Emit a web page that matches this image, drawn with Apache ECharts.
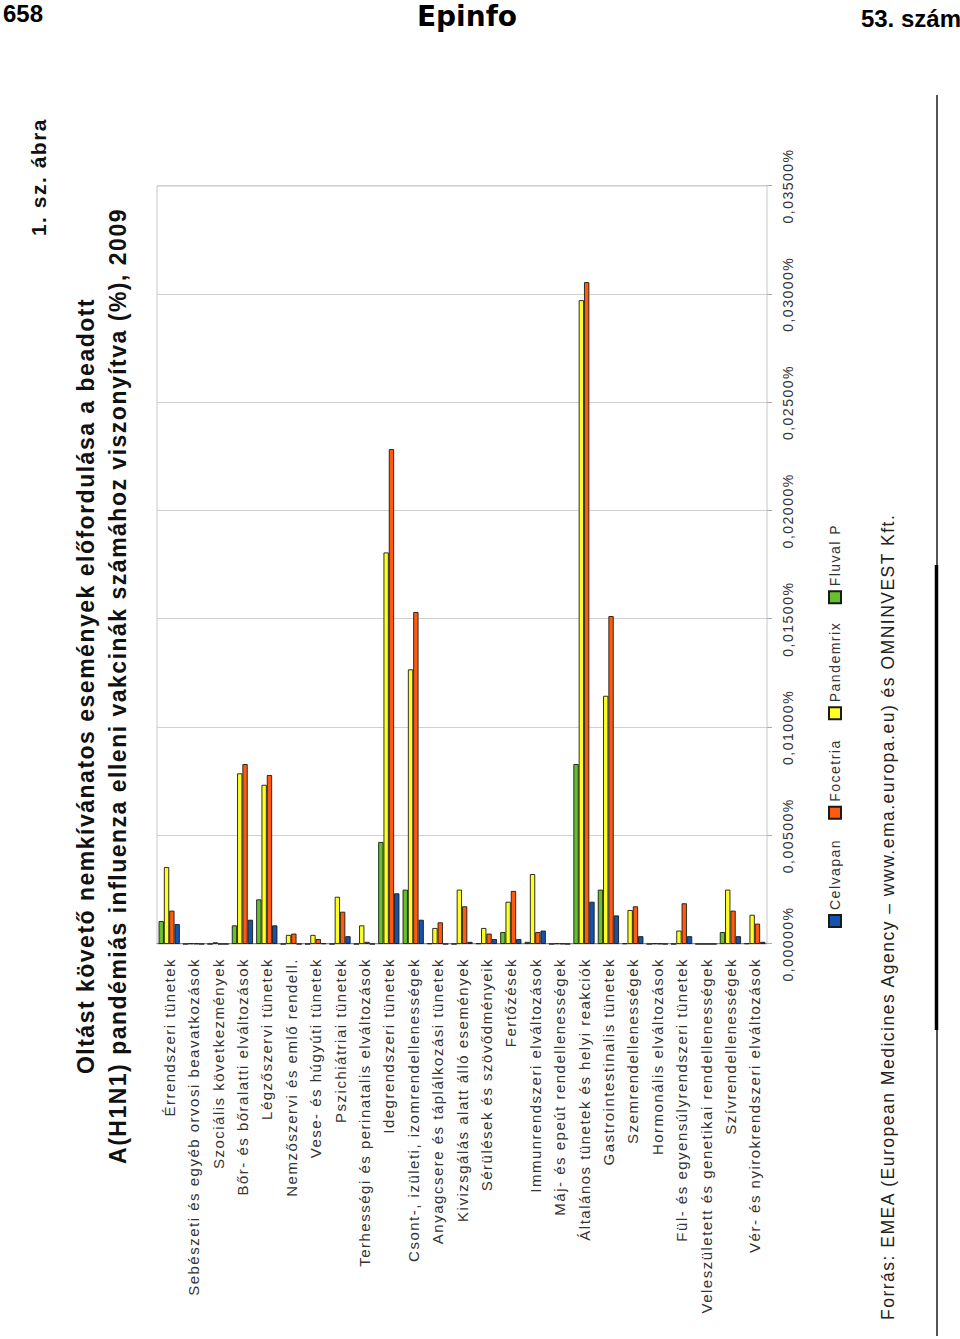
<!DOCTYPE html>
<html><head><meta charset="utf-8">
<script src="https://cdn.jsdelivr.net/npm/echarts@6/dist/echarts.min.js"></script>
<style>
html,body{margin:0;padding:0;background:#fff;}
#page{position:absolute;left:0;top:0;width:960px;height:1339px;}
#chart{position:absolute;left:0;top:40px;width:1299px;height:960px;transform-origin:0 0;transform:translate(0,1299px) rotate(-90deg);letter-spacing:1.5px;}
</style></head><body>
<div id="page"></div><div id="chart"></div>
<script>
const categories = [
  'Érrendszeri tünetek',
  'Sebészeti és egyéb orvosi beavatkozások',
  'Szociális következmények',
  'Bőr- és bőralatti elváltozások',
  'Légzőszervi tünetek',
  'Nemzőszervi és emlő rendell.',
  'Vese- és húgyúti tünetek',
  'Pszichiátriai tünetek',
  'Terhességi és perinatalis elváltozások',
  'Idegrendszeri tünetek',
  'Csont-, izületi, izomrendellenességek',
  'Anyagcsere és táplálkozási tünetek',
  'Kivizsgálás alatt álló események',
  'Sérülések és szövődményeik',
  'Fertőzések',
  'Immunrendszeri elváltozások',
  'Máj- és epeút rendellenességek',
  'Általános tünetek és helyi reakciók',
  'Gastrointestinalis tünetek',
  'Szemrendellenességek',
  'Hormonális elváltozások',
  'Fül- és egyensúlyrendszeri tünetek',
  'Veleszületett és genetikai rendellenességek',
  'Szívrendellenességek',
  'Vér- és nyirokrendszeri elváltozások'
];
const seriesNames = ['Fluval P', 'Pandemrix', 'Focetria', 'Celvapan'];
const legendOrder = ['Celvapan', 'Focetria', 'Pandemrix', 'Fluval P'];
const fluvalP   = [0.00106,0,0,0.00086,0.00206,0,0,0,0,0.00471,0.00251,0.00003,0,0.00003,0.00055,0.0001,0,0.00831,0.00251,0.00003,0,0,0,0.00055,0.00003];
const pandemrix = [0.00355,0.00003,0.00008,0.00788,0.00735,0.00042,0.00042,0.00218,0.00086,0.01808,0.01268,0.00074,0.00251,0.00074,0.00195,0.00323,0.00003,0.02973,0.01146,0.00157,0.00003,0.00062,0,0.00251,0.00135];
const focetria  = [0.00154,0.00002,0,0.00831,0.0078,0.00048,0.00023,0.00149,0.0001,0.02285,0.01533,0.001,0.00174,0.00048,0.00245,0.00055,0.00002,0.03056,0.01514,0.00174,0.00002,0.00188,0,0.00154,0.00094];
const celvapan  = [0.00092,0,0,0.00112,0.00086,0,0.00003,0.00036,0,0.00234,0.00112,0,0.0001,0.00023,0.00023,0.00062,0,0.00195,0.00132,0.00036,0,0.00036,0,0.00036,0.0001];
const titleLines = ['Oltást követő nemkívánatos események előfordulása a beadott', 'A(H1N1) pandémiás influenza elleni vakcinák számához viszonyítva (%), 2009'];
const figLabel = '1. sz. ábra';
const sourceText = 'Forrás: EMEA (European Medicines Agency – www.ema.europa.eu) és OMNINVEST Kft.';
const valueMin = 0, valueMax = 0.035, valueStep = 0.005;

const colors = {'Fluval P':'#66c02e','Pandemrix':'#ffff22','Focetria':'#ff5a0e','Celvapan':'#1452b0'};
const dataMap = {'Fluval P':fluvalP,'Pandemrix':pandemrix,'Focetria':focetria,'Celvapan':celvapan};
const FF = "'Liberation Sans', Arial, sans-serif";

// page decoration (header + side rule)
const page = echarts.init(document.getElementById('page'), null, {renderer:'svg'});
page.setOption({
  animation:false,
  backgroundColor:'#fff',
  graphic:[
    {type:'text', x:3, y:1, style:{text:'658', font:"bold 24px "+FF, fill:'#000', textAlign:'left', align:'left', textVerticalAlign:'top', verticalAlign:'top'}},
    {type:'text', x:467, y:2, style:{text:'Epinfo', font:"bold 28px 'DejaVu Sans'", fill:'#000', textAlign:'center', align:'center', textVerticalAlign:'top', verticalAlign:'top'}},
    {type:'text', x:961, y:6, style:{text:'53. szám', font:"bold 24px "+FF, fill:'#000', textAlign:'right', align:'right', textVerticalAlign:'top', verticalAlign:'top'}},
    {type:'line', shape:{x1:937, y1:95, x2:937, y2:1336}, style:{stroke:'#555', lineWidth:2}},
    {type:'line', shape:{x1:936.5, y1:565, x2:936.5, y2:1030}, style:{stroke:'#000', lineWidth:3.5}}
  ]
});

const chart = echarts.init(document.getElementById('chart'), null, {renderer:'svg'});
const fmt = v => v.toFixed(5).replace('.', ',') + '%';
chart.setOption({
  animation:false,
  backgroundColor:'transparent',
  textStyle:{fontFamily:FF},
  grid:{left:395, right:146, top:157, bottom:193, show:true, borderColor:'#c8c8c8', borderWidth:1, containLabel:false, outerBoundsMode:'none'},
  xAxis:{type:'value', min:valueMin, max:valueMax, interval:valueStep, position:'bottom',
    axisLine:{show:false},
    axisTick:{show:true, length:5, lineStyle:{color:'#aaa'}},
    splitLine:{show:true, lineStyle:{color:'#d0d0d0', width:1}},
    axisLabel:{formatter:fmt, fontSize:14, color:'#333', margin:14}},
  yAxis:{type:'category', data:categories, inverse:true,
    axisTick:{show:false},
    axisLine:{show:true, lineStyle:{color:'#888'}},
    axisLabel:{interval:0, fontSize:15, color:'#333', margin:14}},
  legend:{data:legendOrder, left:406, top:823, orient:'horizontal', itemWidth:12, itemHeight:12, itemGap:31, icon:'rect',
    textStyle:{fontSize:14, color:'#333'}},
  graphic:[
    {type:'text', x:653, y:102, style:{text:titleLines.join('\n'), font:"bold 23px "+FF, fill:'#111', lineHeight:32, textAlign:'center', align:'center', textVerticalAlign:'middle', verticalAlign:'middle'}},
    {type:'text', x:1221, y:38, style:{text:figLabel, font:"bold 21px "+FF, fill:'#111', textAlign:'right', align:'right', textVerticalAlign:'middle', verticalAlign:'middle'}},
    {type:'text', x:19, y:888, style:{text:sourceText, font:"17.5px "+FF, fill:'#222', textAlign:'left', align:'left', textVerticalAlign:'middle', verticalAlign:'middle'}}
  ],
  series: seriesNames.map(n => ({
    name:n, type:'bar', data:dataMap[n], barGap:'0%', barCategoryGap:'13%',
    itemStyle:{color:colors[n], borderColor:'#1a1a1a', borderWidth:0.9}
  }))
});
</script>
</body></html>
